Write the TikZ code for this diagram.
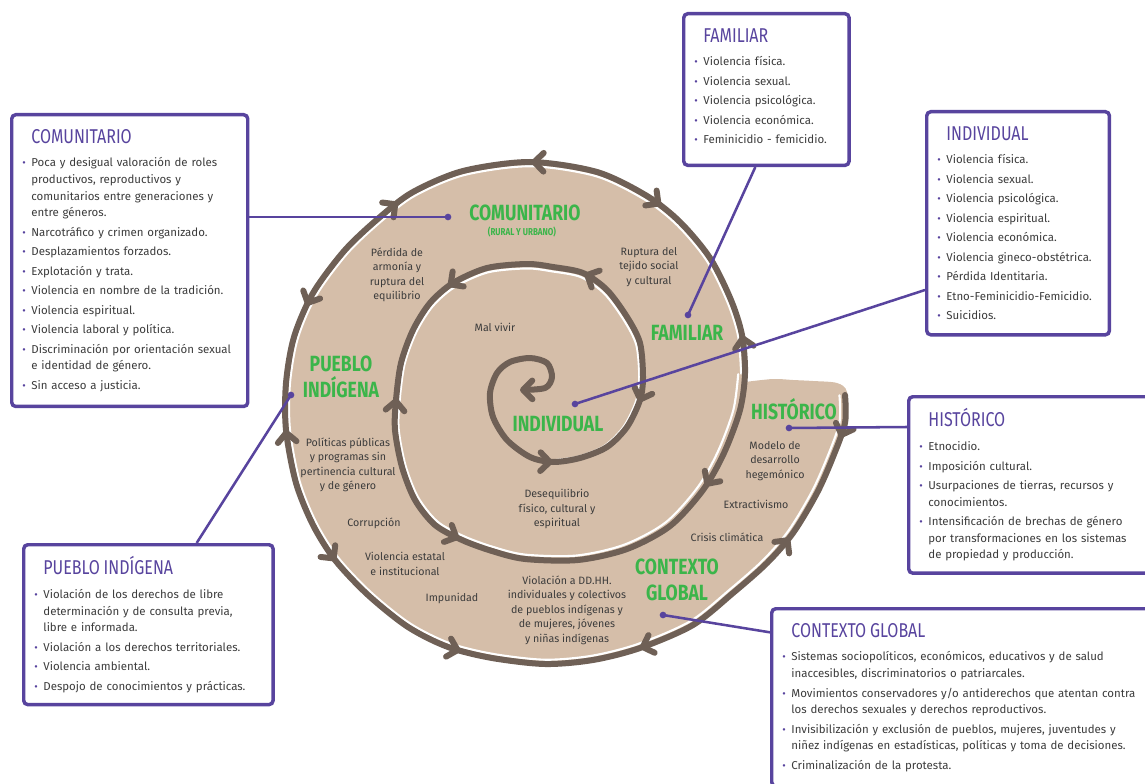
\documentclass[tikz,border=0pt]{standalone}
\usepackage{fontspec}
\setmainfont{Fira Sans}
\newfontfamily\mano{Fira Sans}[FakeStretch=0.8]
\usepackage{tikz}
\usetikzlibrary{arrows.meta,decorations.markings}

\definecolor{violeta}{HTML}{58449E}
\definecolor{verde}{HTML}{3BB54A}
\definecolor{arena}{HTML}{D5BEA9}
\definecolor{cafe}{HTML}{6F6056}
\definecolor{gris}{HTML}{3C3C3C}

\newcommand{\cuerpo}{\fontsize{8.6}{12.4}\selectfont}
\newcommand{\titulo}[1]{\noindent\hspace*{6.75pt}{\mano\fontsize{15}{15}\selectfont\color{violeta}#1}\par\setlength{\parskip}{2.25pt}\vspace{3pt}}
\newcommand{\elem}[1]{\par\hangindent=6.75pt\hangafter=1\noindent\makebox[6.75pt][l]{\color{violeta}\footnotesize\textbullet}#1\par}

\tikzset{
  punta/.tip={Straight Barb[round, length=7pt, width=14pt]},
  caja/.style={draw=violeta, line width=2.6pt, rounded corners=3pt, fill=white, anchor=north west, align=left, inner xsep=8pt, inner ysep=11pt, text=gris, font=\cuerpo},
  rotulo/.style={text=verde, font=\mano\bfseries\fontsize{16.5}{19}\selectfont, align=center},
  nota/.style={text=gris, font=\fontsize{8}{10.9}\selectfont, align=center},
  guia/.style={draw=violeta, line width=1.9pt},
  punto/.style={circle, fill=violeta, inner sep=0pt, minimum size=5pt},
  espiral/.style={draw=cafe, line width=4.5pt, line cap=round, line join=round},
  brillo/.style={draw=white, line width=1.6pt, line cap=round}
}

\begin{document}
\begin{tikzpicture}[x=0.75pt, y=-0.75pt]
\useasboundingbox (0,0) rectangle (1145,784);
\clip (0,0) rectangle (1145,784);

% fondo
\fill[arena] plot[smooth, tension=0.5] coordinates {(745,382) (773,379) (793,380) (813,381) (837,383) (847,392) (847,423) (835,457) (819,493) (795,534) (767,563) (733,593) (693,625) (640,648) (593,660) (545,664) (492,658) (448,647) (408,627) (368,595) (335,560) (313,525) (296,483) (286,430) (286,383) (294,337) (313,293) (345,250) (380,217) (413,192) (463,171) (530,162) (597,172) (647,196) (680,222) (710,258) (731,300) (742,335) (745,373)} -- cycle;

% brillo
\draw[brillo, scale around={0.983:(518,412)}] plot[smooth, tension=0.5] coordinates {(845,395) (845,423) (833,457) (817,493) (793,533) (767,563) (733,593) (693,625) (640,648) (593,660) (545,664) (492,658) (448,647) (408,627) (368,595) (335,560) (313,525) (296,483) (286,430) (286,383) (294,337) (313,293) (345,250) (380,217) (413,192) (463,171) (530,162) (597,172) (647,196) (680,222) (710,258) (731,300) (742,335) (745,373)};
\draw[brillo, scale around={0.97:(518,412)}] plot[smooth, tension=0.5] coordinates {(745,373) (740,410) (724,453) (703,490) (670,526) (627,549) (578,560) (525,559) (492,551) (462,540) (435,525) (415,500) (402,467) (395,430) (396,400) (401,363) (413,330) (430,303) (453,283) (487,268) (527,264) (553,267) (583,273) (607,290) (627,317) (640,343) (643,377) (640,400) (627,427) (607,447) (580,458) (553,462)};

% espiral
\draw[espiral, -punta, decoration={markings,
    mark=at position 0.015 with {\arrow{punta}},
    mark=at position 0.054 with {\arrowreversed{punta}},
    mark=at position 0.119 with {\arrow{punta}},
    mark=at position 0.182 with {\arrowreversed{punta}},
    mark=at position 0.236 with {\arrowreversed{punta}},
    mark=at position 0.285 with {\arrow{punta}},
    mark=at position 0.329 with {\arrowreversed{punta}},
    mark=at position 0.377 with {\arrow{punta}},
    mark=at position 0.426 with {\arrowreversed{punta}},
    mark=at position 0.474 with {\arrow{punta}},
    mark=at position 0.528 with {\arrowreversed{punta}},
    mark=at position 0.583 with {\arrow{punta}},
    mark=at position 0.678 with {\arrowreversed{punta}},
    mark=at position 0.735 with {\arrow{punta}},
    mark=at position 0.779 with {\arrowreversed{punta}},
    mark=at position 0.828 with {\arrowreversed{punta}},
    mark=at position 0.880 with {\arrow{punta}},
    mark=at position 0.919 with {\arrowreversed{punta}}},
  postaction=decorate]
  plot[smooth, tension=0.5] coordinates {(845,395) (845,423) (833,457) (817,493) (793,533) (767,563) (733,593) (693,625) (640,648) (593,660) (545,664) (492,658) (448,647) (408,627) (368,595) (335,560) (313,525) (296,483) (286,430) (286,383) (294,337) (313,293) (345,250) (380,217) (413,192) (463,171) (530,162) (597,172) (647,196) (680,222) (710,258) (731,300) (742,335) (745,373) (740,410) (724,453) (703,490) (670,526) (627,549) (578,560) (525,559) (492,551) (462,540) (435,525) (415,500) (402,467) (395,430) (396,400) (401,363) (413,330) (430,303) (453,283) (487,268) (527,264) (553,267) (583,273) (607,290) (627,317) (640,343) (643,377) (640,400) (627,427) (607,447) (580,458) (553,462) (530,457) (507,440) (493,417) (490,393) (497,373) (510,362) (530,358) (547,363) (552,377) (545,388) (520,390)};

% rotulos verdes
\node[rotulo] (lcomunitario) at (525,213) {COMUNITARIO};
\node[rotulo, font=\mano\bfseries\fontsize{7.5}{8}\selectfont] (lrural) at (522,232) {(RURAL Y URBANO)};
\node[rotulo] (lfamiliar) at (687,333) {FAMILIAR};
\node[rotulo] (lpueblo) at (341,377) {PUEBLO\\INDÍGENA};
\node[rotulo] (lindividual) at (558,424) {INDIVIDUAL};
\node[rotulo] (lhistorico) at (794,409) {HISTÓRICO};
\node[rotulo] (lcontexto) at (677,580) {CONTEXTO\\GLOBAL};

% notas
\node[nota] (perdida) at (397,275) {Pérdida de\\armonía y\\ruptura del\\equilibrio};
\node[nota] (ruptura) at (649,267) {Ruptura del\\tejido social\\y cultural};
\node[nota] (malvivir) at (495,327) {Mal vivir};
\node[nota] (politicas) at (348,465) {Políticas públicas\\y programas sin\\pertinencia cultural\\y de género};
\node[nota] (desequilibrio) at (557,509) {Desequilibrio\\físico, cultural y\\espiritual};
\node[nota] (corrupcion) at (374,523) {Corrupción};
\node[nota] (estatal) at (405,564) {Violencia estatal\\e institucional};
\node[nota] (impunidad) at (452,598) {Impunidad};
\node[nota] (violacion) at (567,610) {Violación a DD.HH.\\individuales y colectivos\\de pueblos indígenas y\\de mujeres, jóvenes\\y niñas indígenas};
\node[nota] (modelo) at (775,461) {Modelo de\\desarrollo\\hegemónico};
\node[nota] (extractivismo) at (756,504) {Extractivismo};
\node[nota] (crisis) at (727,537) {Crisis climática};

% puntos
\node[punto] (pcom) at (448,217) {};
\node[punto] (pfam) at (688,315) {};
\node[punto] (pind) at (575,404) {};
\node[punto] (phis) at (789,428) {};
\node[punto] (pcon) at (663,615) {};
\node[punto] (ppue) at (291,395) {};

% cajas
\node[caja, text width=161pt] (comunitario) at (10,113) {\titulo{COMUNITARIO}
  \elem{Poca y desigual valoración de roles\newline productivos, reproductivos y\newline comunitarios entre generaciones y\newline entre géneros.}
  \elem{Narcotráfico y crimen organizado.}
  \elem{Desplazamientos forzados.}
  \elem{Explotación y trata.}
  \elem{Violencia en nombre de la tradición.}
  \elem{Violencia espiritual.}
  \elem{Violencia laboral y política.}
  \elem{Discriminación por orientación sexual\newline e identidad de género.}
  \elem{Sin acceso a justicia.}};
\node[caja, text width=108pt] (familiar) at (682,12) {\titulo{FAMILIAR}
  \elem{Violencia física.}
  \elem{Violencia sexual.}
  \elem{Violencia psicológica.}
  \elem{Violencia económica.}
  \elem{Feminicidio - femicidio.}
  \vspace{5pt}};
\node[caja, text width=121pt] (individual) at (925,110) {\titulo{INDIVIDUAL}
  \elem{Violencia física.}
  \elem{Violencia sexual.}
  \elem{Violencia psicológica.}
  \elem{Violencia espiritual.}
  \elem{Violencia económica.}
  \elem{Violencia gineco-obstétrica.}
  \elem{Pérdida Identitaria.}
  \elem{Etno-Feminicidio-Femicidio.}
  \elem{Suicidios.}};
\node[caja, text width=168pt, inner ysep=9pt] (historico) at (907,395) {\titulo{HISTÓRICO}
  \elem{Etnocidio.}
  \elem{Imposición cultural.}
  \elem{Usurpaciones de tierras, recursos y\newline conocimientos.}
  \elem{Intensificación de brechas de género\newline por transformaciones en los sistemas\newline de propiedad y producción.}};
\node[caja, text width=272pt] (contexto) at (770,607) {\titulo{CONTEXTO GLOBAL}
  \elem{Sistemas sociopolíticos, económicos, educativos y de salud\newline inaccesibles, discriminatorios o patriarcales.}
  \elem{Movimientos conservadores y/o antiderechos que atentan contra\newline los derechos sexuales y derechos reproductivos.}
  \elem{Invisibilización y exclusión de pueblos, mujeres, juventudes y\newline niñez indígenas en estadísticas, políticas y toma de decisiones.}
  \elem{Criminalización de la protesta.}};
\node[caja, text width=171pt, inner ysep=9pt] (pueblo) at (22,543) {\titulo{PUEBLO INDÍGENA}
  \elem{Violación de los derechos de libre\newline determinación y de consulta previa,\newline libre e informada.}
  \elem{Violación a los derechos territoriales.}
  \elem{Violencia ambiental.}
  \elem{Despojo de conocimientos y prácticas.}};

% lineas guia
\draw[guia] (comunitario.east |- pcom) -- (pcom.center);
\draw[guia] ([xshift=55pt]familiar.south west) -- (pfam.center);
\draw[guia] ([yshift=-135pt]individual.north west) -- (pind.center);
\draw[guia] ([yshift=-24pt]historico.north west) -- (phis.center);
\draw[guia] ([yshift=-19pt]contexto.north west) -- (pcon.center);
\draw[guia] ([xshift=131pt]pueblo.north west) -- (ppue.center);
\end{tikzpicture}
\end{document}
